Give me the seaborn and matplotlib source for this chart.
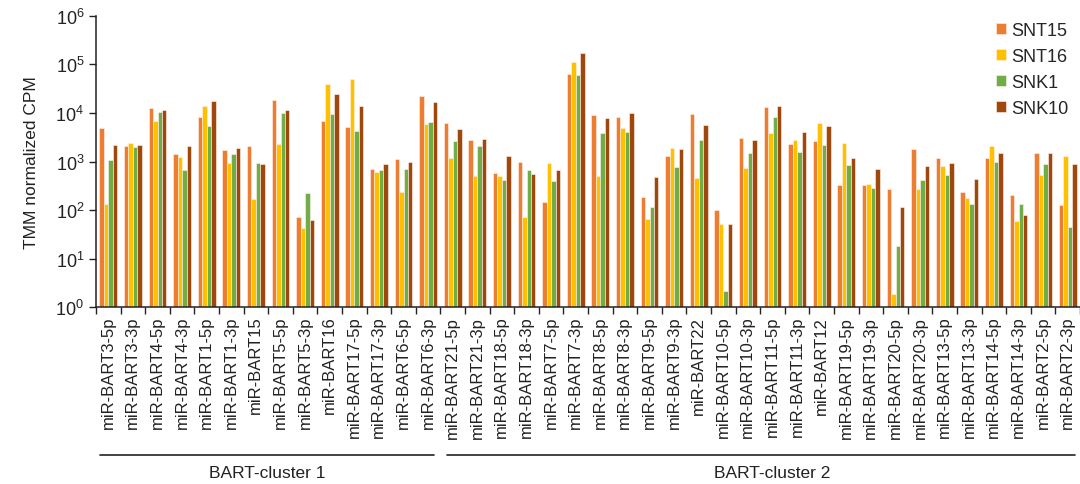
import matplotlib
matplotlib.use("Agg")
import matplotlib.pyplot as plt
import matplotlib.ticker as mticker
import matplotlib.transforms as mtrans
import numpy as np
import pandas as pd
import seaborn as sns

mirnas = ["miR-BART3-5p", "miR-BART3-3p", "miR-BART4-5p", "miR-BART4-3p", "miR-BART1-5p",
          "miR-BART1-3p", "miR-BART15", "miR-BART5-5p", "miR-BART5-3p", "miR-BART16",
          "miR-BART17-5p", "miR-BART17-3p", "miR-BART6-5p", "miR-BART6-3p",
          "miR-BART21-5p", "miR-BART21-3p", "miR-BART18-5p", "miR-BART18-3p", "miR-BART7-5p",
          "miR-BART7-3p", "miR-BART8-5p", "miR-BART8-3p", "miR-BART9-5p", "miR-BART9-3p",
          "miR-BART22", "miR-BART10-5p", "miR-BART10-3p", "miR-BART11-5p", "miR-BART11-3p",
          "miR-BART12", "miR-BART19-5p", "miR-BART19-3p", "miR-BART20-5p", "miR-BART20-3p",
          "miR-BART13-5p", "miR-BART13-3p", "miR-BART14-5p", "miR-BART14-3p", "miR-BART2-5p",
          "miR-BART2-3p"]

snt15 = [5000, 2100, 12600, 1420, 8100, 1700, 2100, 18700, 73, 6900,
         5100, 690, 1110, 21900,
         6200, 2750, 575, 990, 145, 62000, 8900, 8100, 183, 1290,
         9500, 102, 3100, 13100, 2340, 2620, 333, 333, 270, 1810,
         1180, 240, 1180, 208, 1520, 128]
snt16 = [135, 2400, 6900, 1230, 13700, 950, 170, 2250, 43, 38600,
         50000, 605, 233, 5900,
         1180, 510, 510, 71, 920, 110000, 495, 4990, 66, 1870,
         455, 52, 745, 3870, 2800, 6200, 2400, 345, 1.9, 270,
         820, 180, 2100, 60, 522, 1290]
snk1 = [1100, 1960, 10500, 670, 5400, 1420, 950, 10200, 225, 9400,
        4200, 660, 690, 6600,
        2680, 2100, 410, 680, 390, 60000, 3850, 3980, 117, 760,
        2800, 2.2, 1470, 8300, 1590, 2180, 830, 290, 18, 410,
        530, 132, 980, 132, 900, 44]
snk10 = [2230, 2150, 11700, 2100, 17800, 1900, 890, 11300, 63, 24000,
         13700, 900, 1000, 16600,
         4600, 2900, 1290, 550, 660, 169000, 7900, 9800, 480, 1830,
         5700, 52, 2750, 13700, 4100, 5300, 1180, 710, 114, 820,
         920, 445, 1470, 80, 1520, 890]

samples = ["SNT15", "SNT16", "SNK1", "SNK10"]
colors = ["#ED7D31", "#FFC000", "#70AD47", "#9E480E"]
clusters = ["BART-cluster 1", "BART-cluster 2"]

df = pd.DataFrame({
    "miRNA": mirnas * 4,
    "sample": sum([[s] * len(mirnas) for s in samples], []),
    "CPM": snt15 + snt16 + snk1 + snk10,
})

sns.set_theme(style="ticks")
plt.rcParams["font.family"] = ["Liberation Sans", "DejaVu Sans"]
plt.rcParams["mathtext.fontset"] = "custom"
plt.rcParams["mathtext.rm"] = "Liberation Sans"
plt.rcParams["mathtext.it"] = "Liberation Sans"
plt.rcParams["mathtext.bf"] = "Liberation Sans:bold"

fig = plt.figure(figsize=(10.8, 4.85), dpi=100)
ax = fig.add_axes([0.0889, 0.3643, 0.9111, 0.6012])

sns.barplot(data=df, x="miRNA", y="CPM", hue="sample", order=mirnas, hue_order=samples,
            palette=colors, saturation=1, width=0.73, errorbar=None, edgecolor="#fff4ee",
            linewidth=0.4, ax=ax)

ax.set_yscale("log")
ax.set_ylim(1, 1e6)
ax.set_xlim(-0.5, len(mirnas) - 0.5)
ax.yaxis.set_major_locator(mticker.LogLocator(base=10, numticks=10))
ax.yaxis.set_minor_locator(mticker.NullLocator())
ax.set_ylabel("TMM normalized CPM", fontsize=12.5, color="#222222", labelpad=12)
ax.set_xlabel("")

ax.set_xticks(np.arange(len(mirnas)))
ax.set_xticklabels(mirnas, rotation=90, fontsize=12, color="#222222")
ax.set_xticks(np.arange(len(mirnas) + 1) - 0.5, minor=True)
ax.tick_params(axis="x", which="major", length=0, pad=6)
ax.tick_params(axis="x", which="minor", length=5, width=1, color="#222222", direction="out")
ax.tick_params(axis="y", which="major", length=5, width=1, color="#222222", labelsize=13,
               labelcolor="#222222")

for side in ["top", "right"]:
    ax.spines[side].set_visible(False)
for side in ["left", "bottom"]:
    ax.spines[side].set_color("#222222")
    ax.spines[side].set_linewidth(1.1)

leg = ax.legend(loc="upper right", bbox_to_anchor=(1.005, 1.035), frameon=False, fontsize=13,
                handlelength=0.55, handleheight=0.55, handletextpad=0.3, labelspacing=0.5)

trans = mtrans.blended_transform_factory(ax.transData, ax.transAxes)
spans = [(-0.35, 13.25), (13.76, 39.3)]
text_x = [6.45, 27.0]
for i, name in enumerate(clusters):
    x0, x1 = spans[i]
    ax.plot([x0, x1], [-0.507, -0.507], color="#222222", lw=1.2, transform=trans,
            clip_on=False)
    ax.text(text_x[i], -0.565, name, transform=trans, ha="center", va="center",
            fontsize=12.5, color="#222222")

fig.savefig("out.png", dpi=100)
